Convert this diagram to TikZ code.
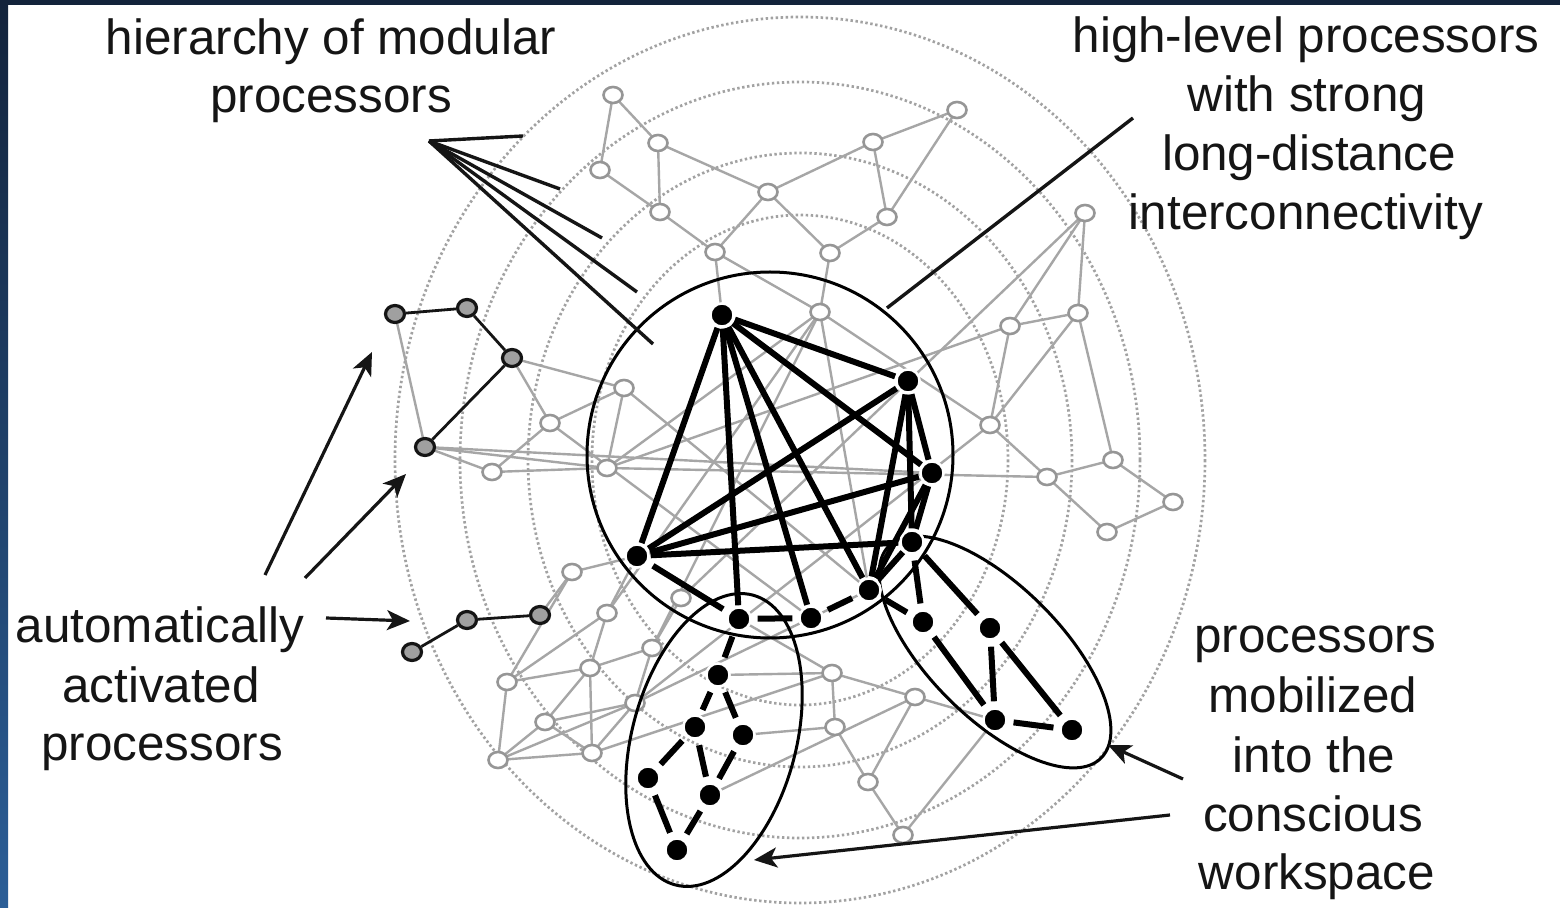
\documentclass[tikz,border=0pt]{standalone}
\usepackage{fontspec}
\setmainfont{Liberation Sans}
\usetikzlibrary{arrows.meta,shapes.geometric}
\definecolor{framedark}{HTML}{13233B}
\definecolor{frameblue}{HTML}{2B5E97}
\definecolor{ringgray}{HTML}{A2A2A2}
\definecolor{linegray}{HTML}{A6A6A6}
\definecolor{nodegray}{HTML}{969696}
\definecolor{actfill}{HTML}{A0A0A0}
\definecolor{inkblack}{HTML}{151515}
\begin{document}
\begin{tikzpicture}[x=0.5pt,y=-0.5pt,
 ring/.style={draw=ringgray,line width=1.35pt,dash pattern=on 1.2pt off 1.3pt},
 gedge/.style={draw=linegray,line width=1.2pt},
 gnode/.style={ellipse,draw=nodegray,fill=white,line width=1.3pt,inner sep=0pt,minimum width=9.5pt,minimum height=8pt},
 anode/.style={ellipse,draw=inkblack,fill=actfill,line width=1.6pt,inner sep=0pt,minimum width=9.5pt,minimum height=8.5pt},
 bnode/.style={circle,fill=black,draw=white,line width=1.2pt,inner sep=0pt,minimum size=11.5pt},
 bedge/.style={draw=black,line width=3pt,shorten <=0.5pt,shorten >=0.5pt},
 cedge/.style={draw=black,line width=3pt,shorten <=3pt,shorten >=3pt},
 aedge/.style={draw=inkblack,line width=1.4pt},
 wsline/.style={draw=black,line width=1.5pt},
 pointer/.style={draw=inkblack,line width=1.7pt},
 arrowline/.style={draw=inkblack,line width=1.6pt,-{Stealth[length=11.5pt,width=10pt,inset=3pt]}},
 lbl/.style={anchor=base,inner sep=0pt,text=inkblack,font=\fontsize{24.7}{29.5}\selectfont}]
\useasboundingbox (0,0) rectangle (1560,908);
\fill[white] (0,0) rectangle (1560,908);
% frame
\shade[top color=framedark,bottom color=frameblue] (0,0) rectangle (8,908);
\fill[framedark] (0,0) rectangle (1560,5);
% dotted rings
\draw[ring] (800,460) ellipse [x radius=405,y radius=443];
\draw[ring] (800,460) ellipse [x radius=340,y radius=378];
\draw[ring] (800,460) ellipse [x radius=272,y radius=307];
\draw[ring] (800,460) ellipse [x radius=208,y radius=245];
% positions
\foreach \n/\x/\y in {A1/613/95,A2/658/143,A3/600/170,A4/660/212,A5/768/192,A6/715/252,
 B1/957/110,B2/873/142,B3/887/217,B4/830/253,B5/820/312,B6/1085/213,B7/1078/313,B8/1010/326,
 C4/990/425,C5/1113/460,C6/1047/477,C7/1173/502,C8/1107/532,
 D1/624/388,D2/550/423,D3/492/472,D4/607/468,
 E1/572/572,E2/607/613,E3/507/682,E4/590/668,E5/652/648,E6/545/722,E7/635/703,E8/498/760,E9/592/753,E10/681/598,
 F1/832/673,F2/915/697,F3/835/727,F4/868/782,F5/903/835}
 {\coordinate (\n) at (\x,\y);}
\foreach \n/\x/\y in {G1/395/314,G2/467/308,G3/512/358,G4/425/447,H1/412/652,H2/467/620,H3/540/615}
 {\coordinate (\n) at (\x,\y);}
\foreach \n/\x/\y in {W1/722/315,W2/908/381,W3/932/473,W4/912/542,W5/637/556,W6/869/590,W7/811/618,W8/739/619,
 R1/923/622,R2/990/628,R3/995/720,R4/1072/730,L1/718/675,L2/695/727,L3/743/735,L4/648/778,L5/710/795,L6/677/850}
 {\coordinate (\n) at (\x,\y);}
% gray edges
\foreach \a/\b in {A1/A3,A1/A2,A2/A4,A2/A5,A3/A4,A4/A6,A5/A6,A6/W1,A6/B5,A5/B2,A5/B4,B2/B1,B1/B3,B2/B3,B3/B4,B4/B5,
 B6/B7,B6/B8,B6/E10,B8/B7,B8/C4,B7/C4,B7/C5,C4/C6,C6/C5,C5/C7,C7/C8,C8/C6,C4/B5,C4/E7,C6/D4,B8/D4,
 G1/G4,G3/D1,G3/D2,D2/D1,G4/D4,G4/D3,D3/D4,D3/D2,D1/D4,D2/W7,D1/W6,G4/W3,
 H3/E1,E1/W5,E1/E3,E3/E2,E3/E4,E3/E8,E2/E4,E2/W5,E4/E6,E4/E9,E4/E5,E6/E7,E6/E9,E8/E9,E8/E6,E8/E7,E9/E7,E5/E7,E5/E10,E7/W6,E9/F1,
 L1/F1,L3/F3,L5/F2,F1/F3,F1/F2,F3/F4,F4/F5,F2/F4,F5/R3,F2/R3,F1/W8,B5/E2,B5/D4,B5/W6,B5/E5}
 {\draw[gedge] (\a) -- (\b);}
\foreach \n in {A1,A2,A3,A4,A5,A6,B1,B2,B3,B4,B5,B6,B7,B8,C4,C5,C6,C7,C8,D1,D2,D3,D4,E1,E2,E3,E4,E5,E6,E7,E8,E9,E10,F1,F2,F3,F4,F5}
 {\node[gnode] (g\n) at (\n) {};}
% workspace circle and ellipses
\draw[wsline] (770,455) circle [radius=183];
\draw[wsline,rotate around={-15:(714,740)}] (714,740) ellipse [x radius=82,y radius=150];
\draw[wsline,rotate around={-45:(995,652)}] (995,652) ellipse [x radius=150,y radius=66];
% black nodes
\foreach \n in {W1,W2,W3,W4,W5,W6,W7,W8,R1,R2,R3,R4,L1,L2,L3,L4,L5,L6}
 {\node[bnode] (b\n) at (\n) {};}
\foreach \a/\b in {W1/W2,W1/W5,W1/W8,W1/W7,W1/W6,W1/W3,W5/W2,W5/W3,W5/W4,W2/W3,W2/W4,W3/W4,W2/W6,W3/W6,W4/W6}
 {\draw[bedge] (b\a) -- (b\b);}
\foreach \a/\b in {W5/W8,W8/W7,W7/W6,W4/R1,W4/R2,W6/R1,R1/R3,R2/R3,R2/R4,R3/R4,W8/L1,L1/L2,L1/L3,L2/L4,L2/L5,L3/L5,L4/L6,L5/L6}
 {\draw[cedge] (b\a) -- (b\b);}
\foreach \n in {W1,W2,W3,W4,W5,W6,W7,W8,R1,R2,R3,R4,L1,L2,L3,L4,L5,L6}
 {\node[bnode] at (\n) {};}
% automatically activated processors
\foreach \n in {G1,G2,G3,G4,H1,H2,H3}
 {\node[anode] (a\n) at (\n) {};}
\foreach \a/\b in {G1/G2,G2/G3,G3/G4,H1/H2,H2/H3}
 {\draw[aedge] (a\a) -- (a\b);}
% labels
\node[lbl] (hier1) at (331,55) {hierarchy of modular};
\node[lbl] (hier2) at (331,113) {processors};
\node[lbl] (high1) at (1306,53) {high-level processors};
\node[lbl] (high2) at (1307,112) {with strong};
\node[lbl] (high3) at (1309,171) {long-distance};
\node[lbl] (high4) at (1306,230) {interconnectivity};
\node[lbl] (auto1) at (160,643) {automatically};
\node[lbl] (auto2) at (161,703) {activated};
\node[lbl] (auto3) at (162,761) {processors};
\node[lbl] (mob1) at (1315,653) {processors};
\node[lbl] (mob2) at (1313,713) {mobilized};
\node[lbl] (mob3) at (1314,773) {into the};
\node[lbl] (mob4) at (1313,832) {conscious};
\node[lbl] (mob5) at (1317,890) {workspace};
% pointers
\coordinate (hapex) at (429,141);
\coordinate (hp1) at (523,136);
\coordinate (hp2) at (560,189);
\coordinate (hp3) at (602,238);
\coordinate (hp4) at (637,292);
\coordinate (hp5) at (653,344);
\foreach \p in {hp1,hp2,hp3,hp4,hp5} {\draw[pointer] (hapex) -- (\p);}
\coordinate (hl0) at (1133,118);
\coordinate (hl1) at (887,308);
\draw[pointer] (hl0) -- (hl1);
\coordinate (aa0) at (265,575);
\coordinate (aa1) at (372,352);
\coordinate (ab0) at (305,578);
\coordinate (ab1) at (406,474);
\coordinate (ac0) at (326,618);
\coordinate (ac1) at (410,621);
\draw[arrowline] (aa0) -- (aa1);
\draw[arrowline] (ab0) -- (ab1);
\draw[arrowline] (ac0) -- (ac1);
\coordinate (ma0) at (1183,779);
\coordinate (ma1) at (1108,745);
\coordinate (mb0) at (1170,815);
\coordinate (mb1) at (754,860);
\draw[arrowline] (ma0) -- (ma1);
\draw[arrowline] (mb0) -- (mb1);
\end{tikzpicture}
\end{document}
